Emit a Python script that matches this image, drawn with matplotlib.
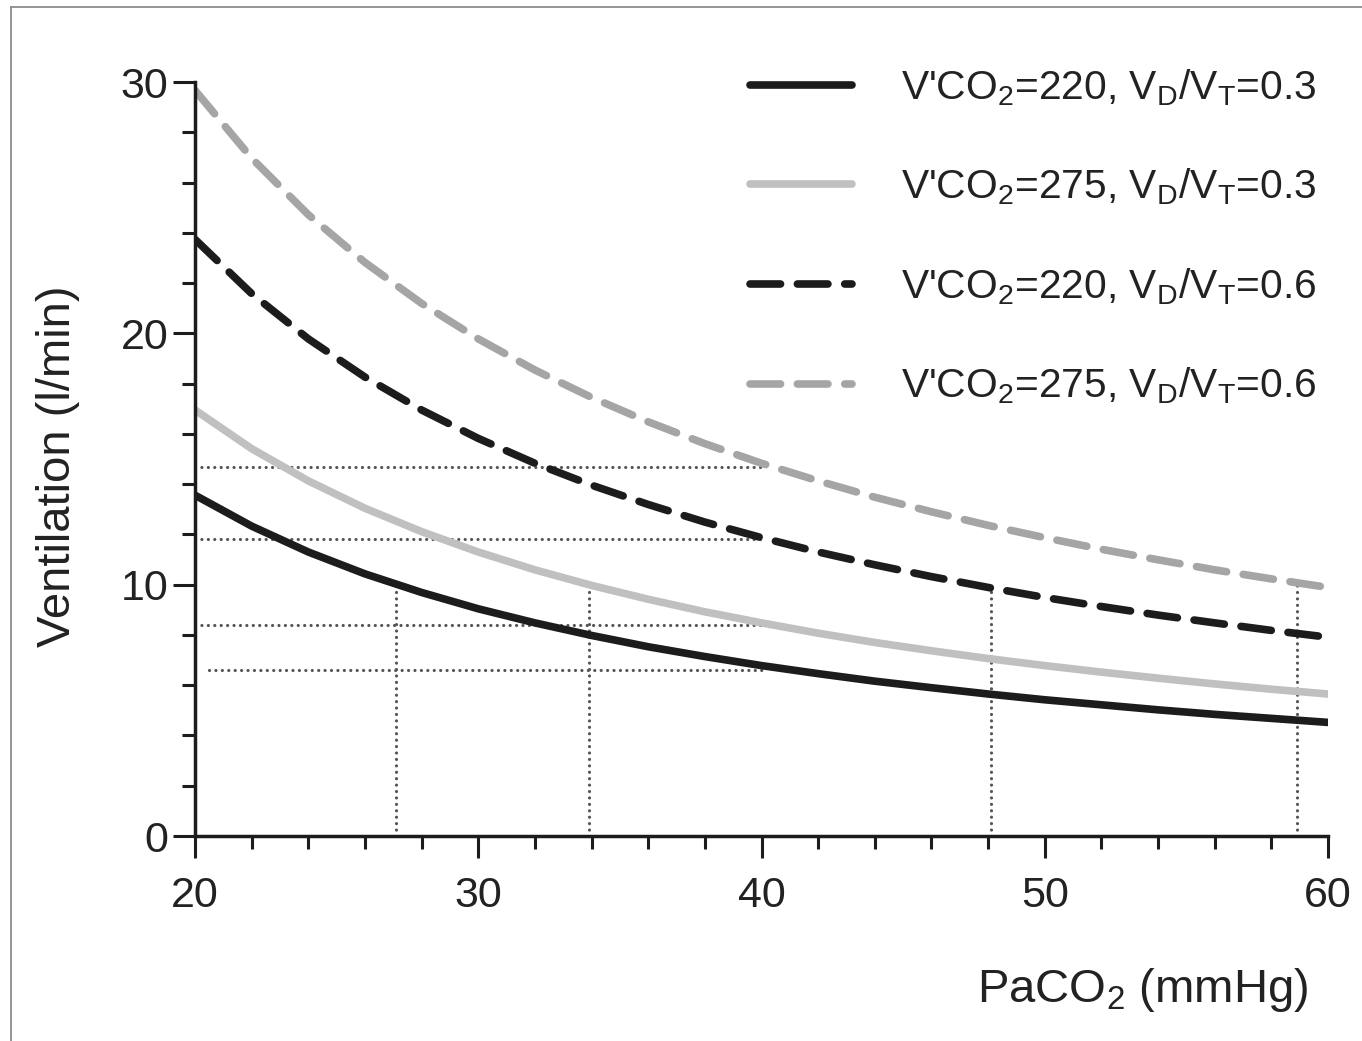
import matplotlib
matplotlib.use("Agg")
import matplotlib.pyplot as plt
from matplotlib.lines import Line2D
from matplotlib.ticker import MultipleLocator

plt.rcParams['font.family'] = ['Liberation Sans', 'DejaVu Sans']
plt.rcParams['mathtext.fontset'] = 'custom'
plt.rcParams['mathtext.rm'] = 'Liberation Sans'
plt.rcParams['mathtext.it'] = 'Liberation Sans:italic'
plt.rcParams['mathtext.bf'] = 'Liberation Sans:bold'

# ---- data ----
paco2 = [20, 22, 24, 26, 28, 30, 32, 34, 36, 38, 40, 42, 44, 46, 48, 50, 52, 54, 56, 58, 60]
vent_220_03 = [13.56, 12.33, 11.30, 10.43, 9.69, 9.04, 8.48, 7.98, 7.53, 7.14, 6.78,
               6.46, 6.16, 5.90, 5.65, 5.42, 5.22, 5.02, 4.84, 4.68, 4.52]
vent_275_03 = [16.95, 15.41, 14.13, 13.04, 12.11, 11.30, 10.59, 9.97, 9.42, 8.92, 8.48,
               8.07, 7.70, 7.37, 7.06, 6.78, 6.52, 6.28, 6.05, 5.84, 5.65]
vent_220_06 = [23.74, 21.58, 19.78, 18.26, 16.95, 15.82, 14.83, 13.96, 13.19, 12.49, 11.87,
               11.30, 10.79, 10.32, 9.89, 9.49, 9.13, 8.79, 8.48, 8.18, 7.91]
vent_275_06 = [29.67, 26.97, 24.72, 22.82, 21.19, 19.78, 18.54, 17.45, 16.48, 15.61, 14.83,
               14.13, 13.48, 12.90, 12.36, 11.87, 11.41, 10.99, 10.59, 10.23, 9.89]
labels = [r"V'CO$_2$=220, V$_\mathrm{D}$/V$_\mathrm{T}$=0.3",
          r"V'CO$_2$=275, V$_\mathrm{D}$/V$_\mathrm{T}$=0.3",
          r"V'CO$_2$=220, V$_\mathrm{D}$/V$_\mathrm{T}$=0.6",
          r"V'CO$_2$=275, V$_\mathrm{D}$/V$_\mathrm{T}$=0.6"]

# dotted reference lines
href_y = [14.7, 11.8, 8.4, 6.6]
href_x0 = [20.0, 20.0, 20.0, 20.5]
href_x1 = [40.1, 40.1, 40.0, 40.2]
vref_x = [27.1, 33.9, 48.1, 58.9]
vref_y1 = [10.0, 10.0, 9.9, 10.0]

xticks = [20, 30, 40, 50, 60]
yticks = [0, 10, 20, 30]

# ---- figure ----
fig = plt.figure(figsize=(13.62, 10.41), dpi=100)
ax = fig.add_axes([195/1362, 1-836/1041, (1328-195)/1362, (836-82)/1041])

dot = dict(color='#555555', lw=2.3, dashes=(0.01, 2.0), dash_capstyle='round', zorder=1)
for y, x0, x1 in zip(href_y, href_x0, href_x1):
    ax.plot([x0, x1], [y, y], **dot)
for x, y1 in zip(vref_x, vref_y1):
    ax.plot([x, x], [0, y1], **dot)

black = '#1c1c1c'
lgray = '#c0c0c0'
dgray = '#a3a5a7'
lw = 5.5
dash = (4.0, 2.2)
h1, = ax.plot(paco2, vent_220_03, color=black, lw=lw, solid_capstyle='round', zorder=3)
h2, = ax.plot(paco2, vent_275_03, color=lgray, lw=lw, solid_capstyle='round', zorder=2)
h3, = ax.plot(paco2, vent_220_06, color=black, lw=lw, dashes=dash, dash_capstyle='round', zorder=3)
h4, = ax.plot(paco2, vent_275_06, color=dgray, lw=lw, dashes=dash, dash_capstyle='round', zorder=2)

ax.set_xlim(20, 60)
ax.set_ylim(0, 30)
ax.set_xticks(xticks)
ax.set_yticks(yticks)
ax.xaxis.set_minor_locator(MultipleLocator(2))
ax.yaxis.set_minor_locator(MultipleLocator(2))
for s in ['top', 'right']:
    ax.spines[s].set_visible(False)
for s in ['left', 'bottom']:
    ax.spines[s].set_linewidth(2.5)
    ax.spines[s].set_color(black)
ax.tick_params(which='major', direction='out', length=16, width=2.2, color=black,
               labelsize=31, labelcolor='#222222')
ax.tick_params(which='minor', direction='out', length=9.5, width=2.2, color=black)
ax.tick_params(axis='x', which='major', pad=13)
ax.tick_params(axis='y', which='major', pad=3)

leg = ax.legend([h1, h2, h3, h4], labels, loc='upper left',
                bbox_to_anchor=(750/1362, 1-67/1041), bbox_transform=fig.transFigure,
                frameon=False, fontsize=29.3, handlelength=2.5, handletextpad=1.22,
                labelspacing=1.45, borderpad=0, borderaxespad=0)
for t in leg.get_texts():
    t.set_color('#222222')

fig.text(58/1362, 1-466.5/1041, 'Ventilation (l/min)', rotation=90, ha='center', va='center',
         fontsize=34, color='#222222')
fig.text(1308/1362, 1-1002/1041, r'PaCO$_2$ (mmHg)', ha='right', va='baseline',
         fontsize=34, color='#222222')

# thin frame lines (top and left)
fig.add_artist(Line2D([11/1362, 1], [1-7/1041, 1-7/1041], transform=fig.transFigure,
                      color='#8c8c8c', lw=1.3))
fig.add_artist(Line2D([11/1362, 11/1362], [0, 1-7/1041], transform=fig.transFigure,
                      color='#8c8c8c', lw=1.3))

fig.savefig('out.png', dpi=100)
